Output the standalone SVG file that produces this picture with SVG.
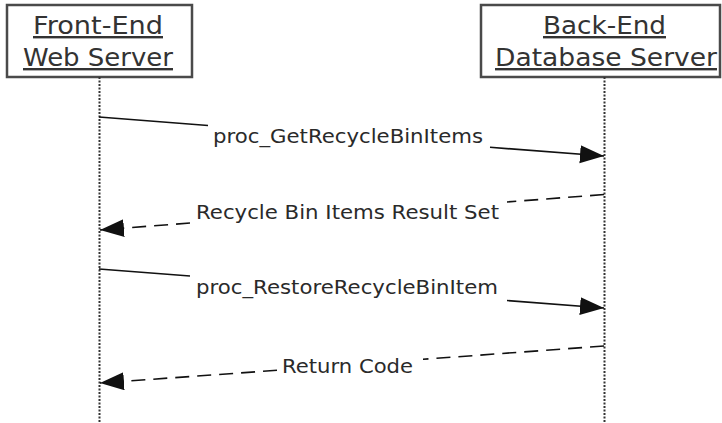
<svg xmlns="http://www.w3.org/2000/svg" width="722" height="423" viewBox="0 0 722 423">
  <style>
    .box { fill: #ffffff; stroke: #4a4a4a; stroke-width: 2.5; }
    .head { font-family: "DejaVu Sans", Verdana, sans-serif; font-size: 24px; fill: #333333; text-decoration: underline; }
    .lbl { font-family: "DejaVu Sans", Verdana, sans-serif; font-size: 19.5px; fill: #2a2a2a; }
    .life { stroke: #333333; stroke-width: 2; stroke-dasharray: 2 1.5; fill: none; }
    .msg { stroke: #111111; stroke-width: 1.6; fill: none; marker-end: url(#arrow); }
    .ret { stroke: #111111; stroke-width: 1.6; fill: none; stroke-dasharray: 14 8; marker-end: url(#arrow); }
  </style>
  <defs>
    <marker id="arrow" markerUnits="userSpaceOnUse" markerWidth="26" markerHeight="20" refX="24" refY="9" orient="auto">
      <path d="M0,0 L24,9 L0,18 Z" fill="#111111"/>
    </marker>
  </defs>
  <rect width="722" height="423" fill="#ffffff"/>

  <g id="frontend">
    <rect class="box" x="7" y="5" width="185" height="72"/>
    <text class="head" x="33" y="34" textLength="130" lengthAdjust="spacingAndGlyphs">Front-End</text>
    <text class="head" x="23" y="66" textLength="150" lengthAdjust="spacingAndGlyphs">Web Server</text>
    <line class="life" x1="99.5" y1="77" x2="99.5" y2="423"/>
  </g>

  <g id="backend">
    <rect class="box" x="481" y="5" width="239" height="72"/>
    <text class="head" x="543" y="34" textLength="123" lengthAdjust="spacingAndGlyphs">Back-End</text>
    <text class="head" x="495" y="66" textLength="222" lengthAdjust="spacingAndGlyphs">Database Server</text>
    <line class="life" x1="604.5" y1="77" x2="604.5" y2="423"/>
  </g>

  <g id="connectors">
    <path class="msg" d="M99,117 L208,125.5 M490,147.3 L604,156"/>
    <path class="ret" d="M604,194.5 L507,202 M190,223 L100,230"/>
    <path class="msg" d="M99,269 L190,276 M507,300.5 L604,308"/>
    <path class="ret" d="M604,346 L423,359.3 M277,370.3 L100,383"/>
  </g>

  <g id="labels">
    <text class="lbl" x="213" y="143" textLength="270" lengthAdjust="spacingAndGlyphs">proc_GetRecycleBinItems</text>
    <text class="lbl" x="196" y="219" textLength="303" lengthAdjust="spacingAndGlyphs">Recycle Bin Items Result Set</text>
    <text class="lbl" x="196" y="294" textLength="302" lengthAdjust="spacingAndGlyphs">proc_RestoreRecycleBinItem</text>
    <text class="lbl" x="282" y="373" textLength="131" lengthAdjust="spacingAndGlyphs">Return Code</text>
  </g>
</svg>
